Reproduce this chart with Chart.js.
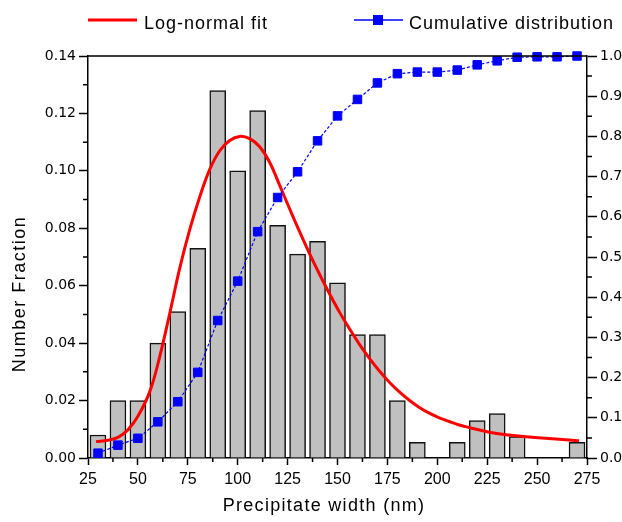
<!DOCTYPE html>
<html>
<head>
<meta charset="utf-8">
<script src="https://cdn.jsdelivr.net/npm/chart.js@4.4.1/dist/chart.umd.min.js"></script>
<style>
html, body { margin: 0; padding: 0; background: #fff; overflow: hidden; }
</style>
</head>
<body>
<canvas id="width-chart" width="640" height="522"></canvas>
<script>
// histogram of precipitate widths (bin centres, nm)
const binCentres = [30, 40, 50, 60, 70, 80, 90, 100, 110, 120, 130, 140, 150, 160, 170, 180, 190, 200, 210, 220, 230, 240, 250, 260, 270];
const numberFraction = [0.008, 0.020, 0.020, 0.040, 0.051, 0.073, 0.128, 0.100, 0.121, 0.081, 0.071, 0.0755, 0.061, 0.043, 0.043, 0.020, 0.0055, null, 0.0055, 0.013, 0.0155, 0.0075, null, null, 0.0055];

// log-normal fit
const fitWidth = [29, 35, 40, 45, 50, 56, 61, 66, 71, 76, 81, 86, 91, 96, 101, 106, 111, 116, 121, 126, 131, 136, 141, 146, 151, 156, 161, 166, 171, 176, 181, 186, 191, 196, 201, 206, 211, 216, 226, 236, 246, 256, 266, 271];
const fitValue = [0.0057, 0.0062, 0.0072, 0.0098, 0.0145, 0.0232, 0.0355, 0.0505, 0.0662, 0.0796, 0.0910, 0.1005, 0.1070, 0.1106, 0.1120, 0.1112, 0.1084, 0.1030, 0.0950, 0.0868, 0.0788, 0.0712, 0.0640, 0.0572, 0.0508, 0.0450, 0.0396, 0.0347, 0.0303, 0.0264, 0.0230, 0.0201, 0.0176, 0.0156, 0.0140, 0.0127, 0.0115, 0.0106, 0.0090, 0.0080, 0.0073, 0.0068, 0.0063, 0.0060];

// cumulative distribution (right axis)
const cumulative = [0.012, 0.032, 0.049, 0.090, 0.140, 0.213, 0.342, 0.440, 0.563, 0.648, 0.712, 0.789, 0.851, 0.892, 0.933, 0.956, 0.960, 0.960, 0.965, 0.978, 0.988, 0.997, 0.998, 0.998, 1.000];

const xTicks = [25, 275, 25];      // min, max, step
const leftTicks = [0, 0.14, 0.02];
const rightTicks = [0, 1.0, 0.1];

const ink = "#000";
const font = "Liberation Sans, Arial, sans-serif";

function pairs(xs, ys) {
    return xs.map((x, i) => ({ x: x, y: ys[i] }));
}

const frameAndMinor = {
    id: "frameAndMinor",
    afterDraw(chart) {
        const { ctx, chartArea: a, scales } = chart;
        ctx.save();
        ctx.strokeStyle = ink;
        ctx.lineWidth = 1.5;
        ctx.beginPath();
        ctx.moveTo(a.left, a.top);
        ctx.lineTo(a.right, a.top);
        for (let v = xTicks[0] + xTicks[2] / 2; v < xTicks[1]; v += xTicks[2]) {
            const px = scales.x.getPixelForValue(v);
            ctx.moveTo(px, a.bottom);
            ctx.lineTo(px, a.bottom + 4);
        }
        for (let v = leftTicks[2] / 2; v < leftTicks[1]; v += leftTicks[2]) {
            const py = scales.y.getPixelForValue(v);
            ctx.moveTo(a.left, py);
            ctx.lineTo(a.left - 5, py);
        }
        for (let v = rightTicks[2] / 2; v < rightTicks[1]; v += rightTicks[2]) {
            const py = scales.y1.getPixelForValue(v);
            ctx.moveTo(a.right, py);
            ctx.lineTo(a.right + 5, py);
        }
        ctx.stroke();
        ctx.restore();
    }
};

const legendAndTitles = {
    id: "legendAndTitles",
    afterDraw(chart) {
        const ctx = chart.ctx;
        ctx.save();
        ctx.fillStyle = ink;
        ctx.font = "18px " + font;
        ctx.letterSpacing = "1px";
        ctx.textBaseline = "alphabetic";

        // legend: fit line
        ctx.strokeStyle = "#ff0000";
        ctx.lineWidth = 3;
        ctx.beginPath();
        ctx.moveTo(88, 20);
        ctx.lineTo(137, 20);
        ctx.stroke();
        ctx.fillText("Log-normal fit", 144, 29);

        // legend: cumulative
        ctx.strokeStyle = "#0000ff";
        ctx.lineWidth = 1.5;
        ctx.beginPath();
        ctx.moveTo(354, 20);
        ctx.lineTo(403, 20);
        ctx.stroke();
        ctx.fillStyle = "#0000ff";
        ctx.fillRect(373, 15, 10, 10);
        ctx.fillStyle = ink;
        ctx.fillText("Cumulative distribution", 409, 29);

        // axis titles
        ctx.letterSpacing = "1.3px";
        ctx.textAlign = "center";
        ctx.fillText("Precipitate width (nm)", 324, 511);

        ctx.translate(25, 294);
        ctx.rotate(-Math.PI / 2);
        ctx.letterSpacing = "1.5px";
        ctx.fillText("Number Fraction", 0, 0);
        ctx.restore();
    }
};

const ctx = document.getElementById("width-chart").getContext("2d");

new Chart(ctx, {
    type: "bar",
    data: {
        datasets: [
            {
                type: "line",
                label: "Cumulative distribution",
                data: pairs(binCentres, cumulative),
                yAxisID: "y1",
                borderColor: "#0000ff",
                backgroundColor: "#0000ff",
                borderWidth: 1.2,
                borderDash: [3, 2],
                pointStyle: "rect",
                pointRadius: 6,
                pointBorderWidth: 1,
                clip: false,
                order: 1
            },
            {
                type: "line",
                label: "Log-normal fit",
                data: pairs(fitWidth, fitValue),
                yAxisID: "y",
                borderColor: "#ff0000",
                borderWidth: 3,
                pointRadius: 0,
                tension: 0.4,
                order: 2
            },
            {
                label: "Number fraction",
                data: pairs(binCentres, numberFraction),
                yAxisID: "y",
                backgroundColor: "#c0c0c0",
                borderColor: "#111",
                borderWidth: 1.5,
                barThickness: 16,
                order: 3
            }
        ]
    },
    options: {
        responsive: false,
        animation: false,
        layout: {
            padding: { top: 56, left: 0, right: 0, bottom: 0 }
        },
        plugins: {
            legend: { display: false },
            tooltip: { enabled: false }
        },
        scales: {
            x: {
                type: "linear",
                min: xTicks[0],
                max: xTicks[1],
                offset: false,
                afterFit: s => { s.height = 64; },
                ticks: {
                    stepSize: xTicks[2],
                    autoSkip: false,
                    maxRotation: 0,
                    padding: 5,
                    color: ink,
                    font: { family: font, size: 16 }
                },
                grid: {
                    offset: false,
                    drawOnChartArea: false,
                    tickLength: 7,
                    tickColor: ink,
                    tickWidth: 1.5
                },
                border: { color: ink, width: 1.5 }
            },
            y: {
                position: "left",
                min: leftTicks[0],
                max: leftTicks[1],
                afterFit: s => { s.width = 88; },
                ticks: {
                    stepSize: leftTicks[2],
                    padding: 3,
                    color: ink,
                    font: { family: "DejaVu Sans", size: 14 },
                    callback: v => v.toFixed(2)
                },
                grid: {
                    drawOnChartArea: false,
                    tickLength: 9,
                    tickColor: ink,
                    tickWidth: 1.5
                },
                border: { color: ink, width: 1.5 }
            },
            y1: {
                position: "right",
                min: rightTicks[0],
                max: rightTicks[1],
                afterFit: s => { s.width = 53; },
                ticks: {
                    stepSize: rightTicks[2],
                    padding: 3,
                    color: ink,
                    font: { family: "DejaVu Sans", size: 14 },
                    callback: v => v.toFixed(1)
                },
                grid: {
                    drawOnChartArea: false,
                    tickLength: 10,
                    tickColor: ink,
                    tickWidth: 1.5
                },
                border: { color: ink, width: 1.5 }
            }
        }
    },
    plugins: [frameAndMinor, legendAndTitles]
});
</script>
</body>
</html>
